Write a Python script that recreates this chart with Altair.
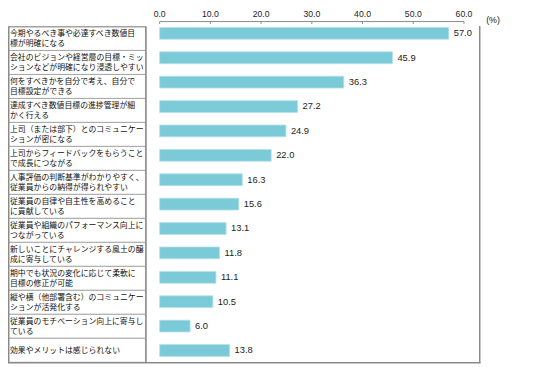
import altair as alt
import pandas as pd

categories = [
    "今期やるべき事や必達すべき数値目\n標が明確になる",
    "会社のビジョンや経営層の目標・ミッ\nションなどが明確になり浸透しやすい",
    "何をすべきかを自分で考え、自分で\n目標設定ができる",
    "達成すべき数値目標の進捗管理が細\nかく行える",
    "上司（または部下）とのコミュニケー\nションが密になる",
    "上司からフィードバックをもらうこと\nで成長につながる",
    "人事評価の判断基準がわかりやすく、\n従業員からの納得が得られやすい",
    "従業員の自律や自主性を高めること\nに貢献している",
    "従業員や組織のパフォーマンス向上に\nつながっている",
    "新しいことにチャレンジする風土の醸\n成に寄与している",
    "期中でも状況の変化に応じて柔軟に\n目標の修正が可能",
    "縦や横（他部署含む）のコミュニケー\nションが活発化する",
    "従業員のモチベーション向上に寄与し\nている",
    "効果やメリットは感じられない",
]
values = [57.0, 45.9, 36.3, 27.2, 24.9, 22.0, 16.3, 15.6, 13.1, 11.8, 11.1, 10.5, 6.0, 13.8]
ticks = [0, 10, 20, 30, 40, 50, 60]
tick_labels = ["0.0", "10.0", "20.0", "30.0", "40.0", "50.0", "60.0"]
unit_label = "(%)"

LH = 10.5
df = pd.DataFrame({"cat": categories, "value": values,
                   "label": [f"{v:.1f}" for v in values]})
df["nl"] = [c.count("\n") + 1 for c in categories]
tdf = pd.DataFrame({"t": ticks, "lab": tick_labels})
adf = pd.DataFrame({"a": [ticks[0]], "b": [ticks[-1]]})
one = pd.DataFrame({"k": [0]})

XS = alt.Scale(domain=[-29.9, 72.62], nice=False, zero=False)
LINE = "#8a8a8a"
JP = "Noto Sans CJK JP"

# --- left table ---
ytab = alt.Y("cat:N", sort=categories, axis=None,
             scale=alt.Scale(paddingInner=0, paddingOuter=0.3695, align=0.889))
rows = alt.Chart(df).mark_rect(fill="white", stroke="#a8a8a8", strokeWidth=1).encode(
    y=ytab, x=alt.value(0.5), x2=alt.value(140))


def rowtext(n, dy):
    return alt.Chart(df).transform_filter(f"datum.nl == {n}").mark_text(
        align="left", baseline="middle", font=JP, fontSize=8.0, lineBreak="\n",
        lineHeight=LH, color="#111111", dy=dy).encode(
        y=ytab, x=alt.value(2), text="cat:N")


table = alt.layer(rows, rowtext(2, -LH / 2 + 0.5), rowtext(1, 0.5))

# --- bars ---
ybar = alt.Y("cat:N", sort=categories, axis=None,
             scale=alt.Scale(paddingInner=0.5155, paddingOuter=0.504, align=0.68))
bars = alt.Chart(df).mark_bar(color="#7BCAD7", stroke="#B5E2EA", strokeWidth=0.8).encode(
    y=ybar, x=alt.X("value:Q", scale=XS, axis=None), x2=alt.datum(0))
barlab = alt.Chart(df).mark_text(
    align="left", baseline="middle", dx=5, font="Liberation Sans", fontSize=9.5,
    color="#222222").encode(y=ybar, x=alt.X("value:Q", scale=XS, axis=None), text="label:N")
barlayer = alt.layer(bars, barlab)

# --- top axis ---
axline = alt.Chart(adf).mark_rule(color=LINE, strokeWidth=1).encode(
    x=alt.X("a:Q", scale=XS, axis=None), x2="b:Q", y=alt.value(11))
axticks = alt.Chart(tdf).mark_rule(color=LINE, strokeWidth=1).encode(
    x=alt.X("t:Q", scale=XS, axis=None), y=alt.value(11), y2=alt.value(13.5))
axlabels = alt.Chart(tdf).mark_text(
    baseline="alphabetic", font="Liberation Sans", fontSize=8.8, color="#222222").encode(
    x=alt.X("t:Q", scale=XS, axis=None), y=alt.value(6.8), text="lab:N")
unit = alt.Chart(one).mark_text(
    font="Liberation Sans", fontSize=9, color="#222222", baseline="middle").encode(
    x=alt.value(492.5), y=alt.value(9.5), text=alt.value(unit_label))

# --- frame ---
def rule(x, x2, y, y2, w=1.5, c=LINE):
    return alt.Chart(one).mark_rule(color=c, strokeWidth=w).encode(
        x=alt.value(x), x2=alt.value(x2), y=alt.value(y), y2=alt.value(y2))

frame = alt.layer(
    rule(0.75, 0.75, 16, 357.5),
    rule(0, 140, 16.5, 16.5, 1, "#999999"),
    rule(140, 140, 16, 357.5),
    rule(479, 479, 15.5, 358),
    rule(0, 479.75, 357.5, 357.5),
)

chart = alt.layer(table, barlayer, axline, axticks, axlabels, unit, frame).resolve_scale(
    y="independent"
).properties(
    width=528, height=359, padding=0,
    autosize=alt.AutoSizeParams(type="none"),
).configure_view(stroke=None)

chart.save("out.html", embed_options={"renderer": "svg", "actions": False})
